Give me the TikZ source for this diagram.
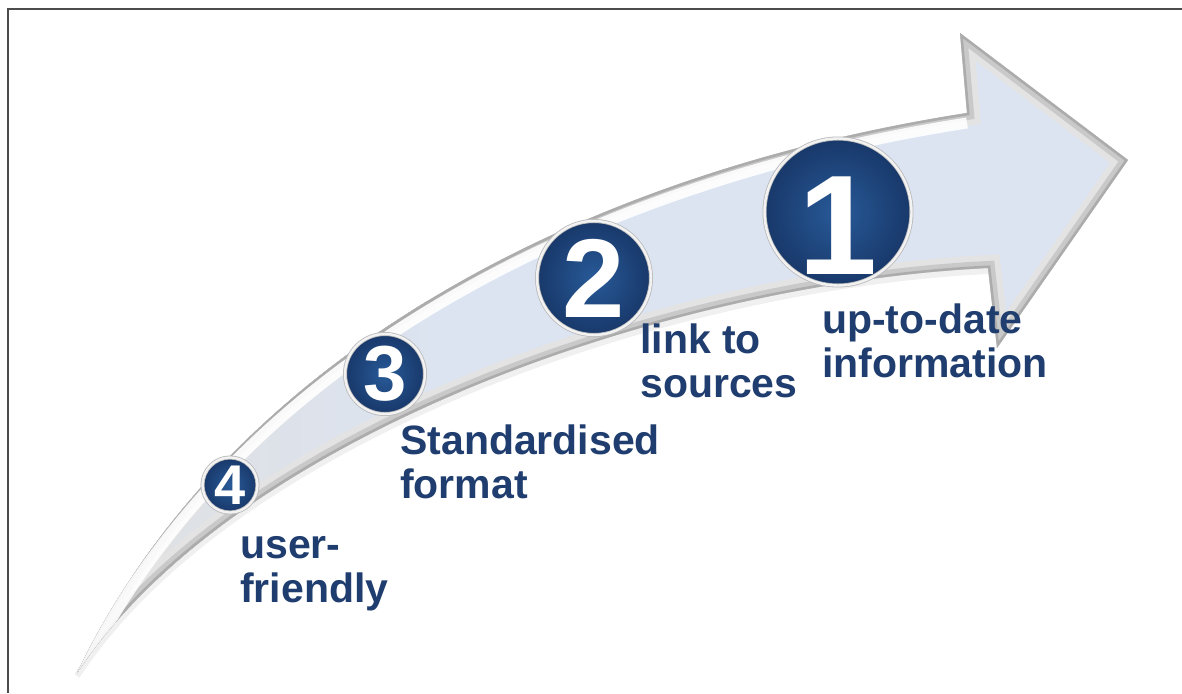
\documentclass[tikz,border=0pt]{standalone}
\usepackage{fontspec}
\setmainfont{Liberation Sans}

\definecolor{arrowfill}{RGB}{220,228,242}
\definecolor{labelblue}{RGB}{31,61,110}
\definecolor{badgeblue}{RGB}{40,90,152}
\definecolor{badgedark}{RGB}{24,56,106}

% outline of the bent arrow
\newcommand{\arrowoutline}{(77,673) .. controls (235,345) and (600,170) .. (967,113)
  -- (960,33) -- (1128,160) -- (997,348) -- (988,268)
  .. controls (658,284) and (230,440) .. (77,673) -- cycle}

\begin{document}
\begin{tikzpicture}[x=1pt, y=-1pt,
    badge/.style 2 args={circle, inner sep=0pt, minimum size=#1,
      inner color=badgeblue, outer color=badgedark,
      draw=gray!55, double=white!90!gray, double distance=2.4pt, line width=0.8pt,
      text=white, font=\fontsize{#2}{#2}\selectfont\bfseries},
    steptext/.style={anchor=base west, align=left, inner sep=0pt,
      text=labelblue, font=\fontsize{41}{44}\selectfont\bfseries}]
    \useasboundingbox (0,0) rectangle (1182,693);

    % Rahmen
    \draw[line width=2pt, black!70] (7.5,693) -- (7.5,9.5) -- (1182,9.5);

    % Pfeil
    \draw[gray!12, line width=6pt, yshift=-3pt] (988,268) .. controls (658,284) and (230,440) .. (77,673);
    \fill[arrowfill] \arrowoutline;
    \begin{scope}
        \clip \arrowoutline;
        \fill[left color=gray!25!white, right color=arrowfill] (60,300) rectangle (460,693);
        \draw[gray!22, line width=26pt] \arrowoutline;
        \draw[gray!42, line width=14pt] \arrowoutline;
        \draw[gray!65, line width=5pt] \arrowoutline;
        \draw[white, line width=11pt, yshift=-10pt, opacity=0.9]
            (77,673) .. controls (235,345) and (600,170) .. (967,113);
    \end{scope}

    % Nummern
    \node[badge={146}{142}, text height=124pt] (n1) at (838,212) {1};
    \node[badge={114}{112}] (n2) at (594,278) {2};
    \node[badge={80}{78}] (n3) at (385,374) {3};
    \node[badge={55}{56}] (n4) at (230,485) {4};

    % Texte (Grundlinie der zweiten Zeile)
    \node[steptext] (t1) at (822,377) {up-to-date\\information};
    \node[steptext] (t2) at (640,397) {link to\\sources};
    \node[steptext] (t3) at (400,498) {Standardised\\format};
    \node[steptext] (t4) at (240,602) {user-\\friendly};
\end{tikzpicture}
\end{document}
